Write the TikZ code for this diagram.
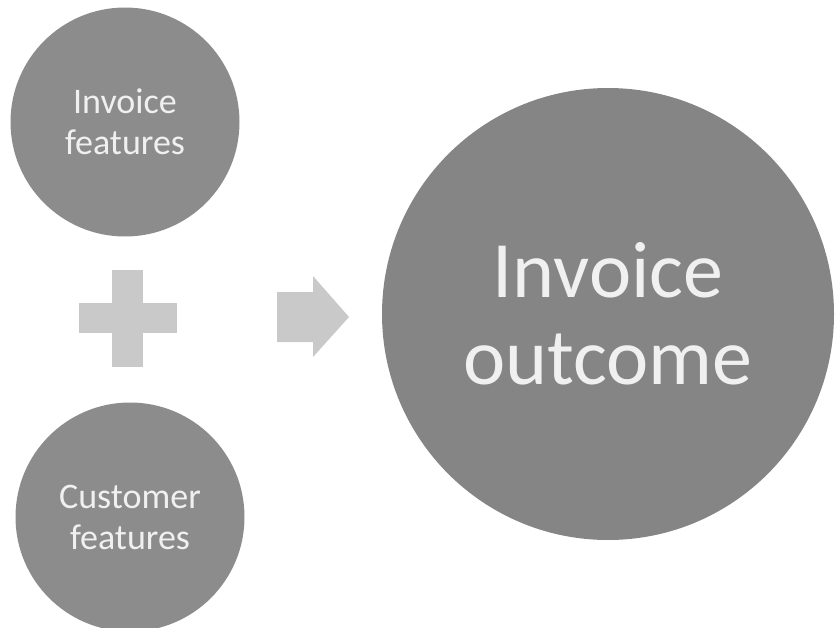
\documentclass[tikz,border=0pt]{standalone}
\usepackage{fontspec}
\setmainfont{Carlito}
\definecolor{discgray}{gray}{0.55}
\definecolor{signgray}{gray}{0.79}
\definecolor{labelwhite}{gray}{0.94}
\tikzset{
  featdisc/.style = {circle, fill=discgray, text=labelwhite, align=center,
                     inner sep=0pt, minimum size=229pt,
                     font=\fontsize{36}{41}\selectfont},
  outdisc/.style  = {circle, fill=discgray!95!black, text=labelwhite,
                     align=center, inner sep=0pt, minimum size=452pt,
                     font=\fontsize{80}{87}\selectfont},
  signfill/.style = {fill=signgray}
}

\begin{document}
\begin{tikzpicture}[x=1pt,y=-1pt]
  \useasboundingbox (0,0) rectangle (835,627);
  % the two inputs and the result
  \node[featdisc] (invfeat)  at (125,122) {Invoice\\features};
  \node[featdisc] (custfeat) at (130,517) {Customer\\features};
  \node[outdisc]  (outcome)  at (608,314) {Invoice\\outcome};
  % plus sign between the inputs
  \fill[signfill] (112,270) rectangle (143,367);
  \fill[signfill] (79,303) rectangle (177,333);
  % block arrow towards the result
  \fill[signfill] (277,292) -- (313,292) -- (313,276) -- (349,317)
    -- (313,357) -- (313,342) -- (277,342) -- cycle;
\end{tikzpicture}
\end{document}
